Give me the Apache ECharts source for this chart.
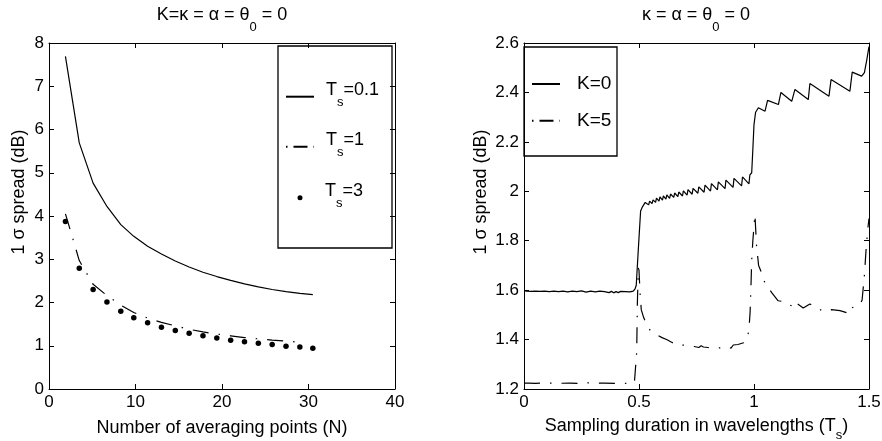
<!DOCTYPE html>
<html><head><meta charset="utf-8">
<script src="https://cdn.jsdelivr.net/npm/echarts@6/dist/echarts.min.js"></script>
<style>html,body{margin:0;padding:0;background:#fff}#c{width:882px;height:441px}</style>
</head><body><div id="c"></div>
<script>
// ---------- Left panel data ----------
const nPoints = [1.9, 3.5, 5.1, 6.7, 8.3, 9.8, 11.4, 13.0, 14.6, 16.2, 17.8, 19.4, 21.0, 22.6, 24.2, 25.8, 27.4, 29.0, 30.5];
const ts01 = [7.69, 5.69, 4.76, 4.22, 3.80, 3.53, 3.30, 3.12, 2.96, 2.82, 2.70, 2.60, 2.51, 2.43, 2.36, 2.30, 2.25, 2.21, 2.18];
const ts1  = [4.05, 2.97, 2.42, 2.16, 1.94, 1.77, 1.64, 1.54, 1.46, 1.38, 1.32, 1.27, 1.23, 1.19, 1.16, 1.13, 1.11, 1.08];
const ts3  = [3.87, 2.79, 2.30, 2.01, 1.80, 1.65, 1.53, 1.43, 1.35, 1.29, 1.23, 1.18, 1.13, 1.09, 1.06, 1.03, 0.99, 0.97, 0.94];
const leftNames = ['Ts=0.1', 'Ts=1', 'Ts=3'];
const leftLegendText = ['=0.1', '=1', '=3'];

// ---------- Right panel data ----------
const k0X = [0, 0.01, 0.03, 0.05, 0.07, 0.09, 0.11, 0.13, 0.15, 0.17, 0.19, 0.21, 0.23, 0.25, 0.27, 0.29, 0.31, 0.33, 0.35, 0.37, 0.38, 0.39, 0.40, 0.41, 0.42, 0.44, 0.46, 0.475, 0.483, 0.488, 0.498, 0.507, 0.515,
  0.527, 0.542, 0.546, 0.557, 0.561, 0.572, 0.576, 0.587, 0.591, 0.602, 0.606, 0.617, 0.621, 0.633, 0.637, 0.651, 0.655, 0.669, 0.673, 0.689, 0.693, 0.709, 0.713, 0.731, 0.735, 0.756, 0.76, 0.783, 0.787, 0.811, 0.815, 0.841, 0.845, 0.874, 0.878, 0.909, 0.913, 0.946, 0.95, 0.978, 0.982, 0.99, 0.995, 1.0, 1.007,
  1.019, 1.048, 1.059, 1.106, 1.117, 1.164, 1.178, 1.236, 1.243, 1.326, 1.335, 1.417, 1.427, 1.468, 1.48, 1.49, 1.5];
const k0Y = [1.598, 1.596, 1.595, 1.596, 1.595, 1.596, 1.594, 1.596, 1.594, 1.596, 1.593, 1.596, 1.594, 1.597, 1.592, 1.596, 1.593, 1.596, 1.594, 1.590, 1.595, 1.589, 1.594, 1.590, 1.595, 1.594, 1.593, 1.596, 1.605, 1.62, 1.78, 1.92, 1.937,
  1.955, 1.945, 1.96, 1.95, 1.965, 1.955, 1.972, 1.96, 1.977, 1.964, 1.981, 1.968, 1.985, 1.971, 1.989, 1.975, 1.993, 1.978, 1.997, 1.981, 2.002, 1.984, 2.007, 1.988, 2.012, 1.992, 2.018, 1.996, 2.025, 2.001, 2.031, 2.006, 2.038, 2.011, 2.045, 2.016, 2.052, 2.022, 2.058, 2.03, 2.066, 2.075, 2.17, 2.27, 2.32,
  2.338, 2.324, 2.368, 2.351, 2.40, 2.364, 2.412, 2.371, 2.436, 2.385, 2.452, 2.405, 2.482, 2.466, 2.48, 2.53, 2.585];
const k5X = [0, 0.02, 0.05, 0.1, 0.15, 0.2, 0.25, 0.28, 0.3, 0.35, 0.4, 0.44, 0.47, 0.48, 0.485, 0.49, 0.493, 0.497, 0.5, 0.505, 0.51, 0.52, 0.533, 0.55, 0.575, 0.6, 0.62, 0.64, 0.664, 0.7, 0.74, 0.76, 0.77, 0.78, 0.8, 0.83, 0.86, 0.88, 0.9, 0.91, 0.93, 0.955, 0.97, 0.978, 0.983, 0.986, 0.99, 0.995, 1.004, 1.011, 1.02, 1.033, 1.047, 1.077, 1.105, 1.135, 1.155, 1.171, 1.178, 1.214, 1.243, 1.27, 1.301, 1.337, 1.374, 1.417, 1.424, 1.461, 1.47, 1.475, 1.48, 1.487, 1.495, 1.5];
const k5Y = [1.224, 1.224, 1.223, 1.224, 1.223, 1.224, 1.222, 1.225, 1.223, 1.224, 1.223, 1.223, 1.224, 1.226, 1.23, 1.35, 1.55, 1.69, 1.68, 1.58, 1.52, 1.49, 1.46, 1.435, 1.42, 1.408, 1.40, 1.39, 1.379, 1.377, 1.372, 1.368, 1.375, 1.37, 1.368, 1.366, 1.367, 1.372, 1.365, 1.378, 1.38, 1.387, 1.40, 1.44, 1.51, 1.59, 1.72, 1.80, 1.906, 1.78, 1.70, 1.67, 1.63, 1.59, 1.557, 1.553, 1.54, 1.534, 1.552, 1.528, 1.544, 1.53, 1.514, 1.521, 1.517, 1.505, 1.528, 1.541, 1.56, 1.61, 1.66, 1.76, 1.85, 1.89];
const rightNames = ['K=0', 'K=5'];

// axis ranges
const leftX = {min: 0, max: 40, interval: 10};
const leftY = {min: 0, max: 8, interval: 1};
const rightX = {min: 0, max: 1.5, interval: 0.5};
const rightY = {min: 1.2, max: 2.6, interval: 0.2};

const F = "'Liberation Sans', Arial, Helvetica, sans-serif";
const pairs = (xs, ys) => ys.map((y, i) => [xs[i], y]);
const DASHDOT = [16, 10, 1.5, 10];
const HIDE_SYMBOL = {color: 'rgba(0,0,0,0)', borderWidth: 0, opacity: 0};

function axis(gridIndex, range, position, showLabel, extra) {
  return Object.assign({
    type: 'value', gridIndex, position,
    min: range.min, max: range.max, interval: range.interval,
    axisLine: {onZero: false, lineStyle: {color: '#000', width: 1}},
    axisTick: {inside: true, length: 5, lineStyle: {color: '#000', width: 1}},
    splitLine: {show: false},
    axisLabel: {show: showLabel, color: '#000', fontSize: 17, fontFamily: F, margin: 5}
  }, extra || {});
}

const subRich = {
  m: {fontSize: 18, lineHeight: 20, padding: [0, 0, 10, 0], fontFamily: F, fontWeight: 'normal', color: '#000'},
  s: {fontSize: 13, lineHeight: 13, padding: [13.5, 0, 3.5, 0], fontFamily: F, fontWeight: 'normal', color: '#000'}
};
const titleRich = {
  m: {fontSize: 18, lineHeight: 20, padding: [0, 0, 10, 0], fontFamily: F, fontWeight: 'normal', color: '#000'},
  s: {fontSize: 13, lineHeight: 13, padding: [15.5, 0, 1.5, 0], fontFamily: F, fontWeight: 'normal', color: '#000'}
};
function legendRich(padLeft) {
  return {
    a: {fontSize: 18, lineHeight: 18, padding: [0, 0, 14, padLeft], fontFamily: F, color: '#000'},
    s: {fontSize: 13, lineHeight: 13, padding: [15, 0, 4, 0], fontFamily: F, color: '#000'},
    m: {fontSize: 18, lineHeight: 18, padding: [0, 0, 14, 0], fontFamily: F, color: '#000'}
  };
}
function leftLegend(i, top, extra) {
  return Object.assign({
    data: [leftNames[i]], left: 285, top, orient: 'vertical', padding: 0,
    itemWidth: 28, itemHeight: 14, selectedMode: false,
    itemStyle: HIDE_SYMBOL,
    formatter: () => '{a|T}{s|s}{m|' + leftLegendText[i] + '}',
    textStyle: {rich: legendRich(7)}
  }, extra || {});
}
function rightLegend(i, top, extra) {
  return Object.assign({
    data: [rightNames[i]], left: 531, top, orient: 'vertical', padding: 0,
    itemWidth: 28, itemHeight: 14, selectedMode: false,
    itemStyle: HIDE_SYMBOL,
    textStyle: {fontSize: 19, lineHeight: 20, fontFamily: F, color: '#000', padding: [0, 0, 0, 12]}
  }, extra || {});
}

const chart = echarts.init(document.getElementById('c'), null, {renderer: 'canvas'});
chart.setOption({
  animation: false,
  backgroundColor: '#fff',
  title: [
    {text: '{m|K=κ = α = θ}{s|0}{m| = 0}', left: 222, top: 10.5, textAlign: 'center', padding: 0,
     textStyle: {fontWeight: 'normal', rich: titleRich}},
    {text: '{m|κ = α = θ}{s|0}{m| = 0}', left: 696, top: 10.5, textAlign: 'center', padding: 0,
     textStyle: {fontWeight: 'normal', rich: titleRich}}
  ],
  grid: [
    {left: 49, top: 43, width: 346, height: 346, outerBoundsMode: 'none', containLabel: false},
    {left: 524, top: 43, width: 345, height: 346, outerBoundsMode: 'none', containLabel: false}
  ],
  xAxis: [
    axis(0, leftX, 'bottom', true, {name: 'Number of averaging points (N)', nameLocation: 'middle', nameGap: 29,
      nameTextStyle: {color: '#000', fontSize: 18, lineHeight: 20, fontFamily: F}}),
    axis(0, leftX, 'top', false),
    axis(1, rightX, 'bottom', true, {name: '{m|Sampling duration in wavelengths (T}{s|s}{m|)}', nameLocation: 'middle', nameGap: 31,
      nameTextStyle: {color: '#000', fontSize: 18, fontFamily: F, verticalAlign: 'top', rich: subRich}}),
    axis(1, rightX, 'top', false)
  ],
  yAxis: [
    axis(0, leftY, 'left', true, {name: '1 σ spread (dB)', nameLocation: 'middle', nameGap: 20,
      nameTextStyle: {color: '#000', fontSize: 18, lineHeight: 20, fontFamily: F, padding: [0, 0, 0, 48]}}),
    axis(0, leftY, 'right', false),
    axis(1, rightY, 'left', true, {name: '1 σ spread (dB)', nameLocation: 'middle', nameGap: 33,
      nameTextStyle: {color: '#000', fontSize: 18, lineHeight: 20, fontFamily: F, padding: [0, 0, 0, 48]}}),
    axis(1, rightY, 'right', false)
  ],
  legend: [
    leftLegend(0, 80.7),
    leftLegend(1, 130.7, {lineStyle: {type: [1.5, 6, 14, 6]}}),
    leftLegend(2, 181.7, {left: 297.5, itemWidth: 5, itemHeight: 5, itemStyle: {color: '#000'},
      textStyle: {rich: legendRich(17.5)}}),
    rightLegend(0, 74),
    rightLegend(1, 110.7, {lineStyle: {type: [1.5, 6, 14, 6]}})
  ],
  graphic: [
    {type: 'rect', shape: {x: 278, y: 46, width: 114, height: 202}, style: {fill: 'none', stroke: '#000', lineWidth: 1.3}, z: 10},
    {type: 'rect', shape: {x: 524, y: 47, width: 93, height: 109}, style: {fill: 'none', stroke: '#000', lineWidth: 1.3}, z: 10}
  ],
  series: [
    {name: leftNames[0], type: 'line', xAxisIndex: 0, yAxisIndex: 0, data: pairs(nPoints, ts01), symbol: 'none',
     lineStyle: {color: '#000', width: 1.2}, itemStyle: {color: '#000'}},
    {name: leftNames[1], type: 'line', xAxisIndex: 0, yAxisIndex: 0, data: pairs(nPoints, ts1), symbol: 'none',
     lineStyle: {color: '#000', width: 1.2, type: DASHDOT}, itemStyle: {color: '#000'}},
    {name: leftNames[2], type: 'scatter', xAxisIndex: 0, yAxisIndex: 0, data: pairs(nPoints, ts3), symbol: 'circle', symbolSize: 5.5,
     itemStyle: {color: '#000', opacity: 1}},
    {name: rightNames[0], type: 'line', xAxisIndex: 2, yAxisIndex: 2, data: pairs(k0X, k0Y), symbol: 'none',
     lineStyle: {color: '#000', width: 1.2}, itemStyle: {color: '#000'}},
    {name: rightNames[1], type: 'line', xAxisIndex: 2, yAxisIndex: 2, data: pairs(k5X, k5Y), symbol: 'none',
     lineStyle: {color: '#000', width: 1.2, type: DASHDOT}, itemStyle: {color: '#000'}}
  ]
});
</script>
</body></html>
